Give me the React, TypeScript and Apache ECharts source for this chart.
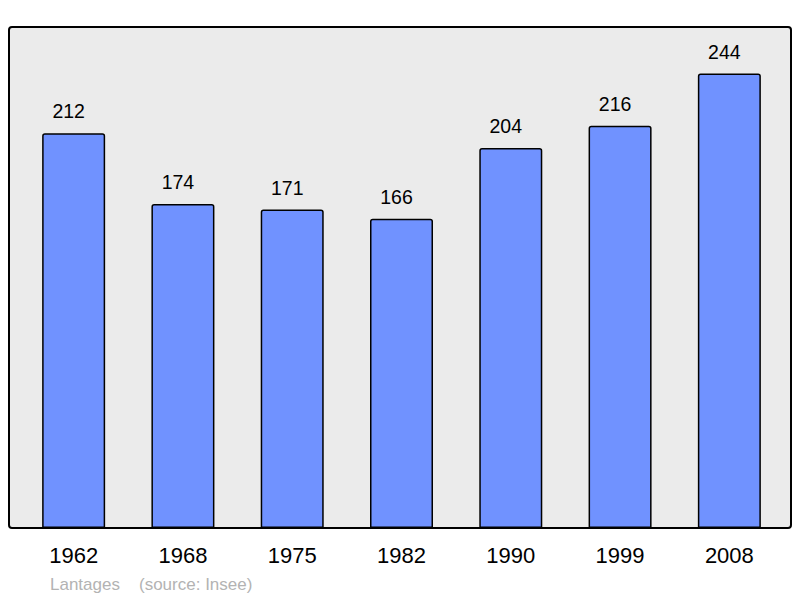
import React, { useEffect, useRef } from "react";
import * as echarts from "echarts";

const years = ["1962", "1968", "1975", "1982", "1990", "1999", "2008"];
const population = [212, 174, 171, 166, 204, 216, 244];
const townName = "Lantages";
const sourceText = "(source: Insee)";

export default function App() {
  const ref = useRef<HTMLDivElement>(null);
  useEffect(() => {
    if (!ref.current) return;
    const chart = echarts.init(ref.current, undefined, { renderer: "svg" });
    chart.setOption({
      animation: false,
      backgroundColor: "#ffffff",
      textStyle: { fontFamily: "Liberation Sans, Arial, sans-serif" },
      graphic: [
        {
          type: "rect",
          z: -10,
          shape: { x: 9, y: 27, width: 782, height: 501, r: 3 },
          style: { fill: "#ebebeb", stroke: "#000000", lineWidth: 2 },
        },
        {
          type: "text",
          x: 50,
          y: 584,
          style: {
            text: townName,
            fill: "#b3b3b3",
            font: "17px 'Liberation Sans', Arial, sans-serif",
            verticalAlign: "middle",
          },
        },
        {
          type: "text",
          x: 139,
          y: 584,
          style: {
            text: sourceText,
            fill: "#b3b3b3",
            font: "17px 'Liberation Sans', Arial, sans-serif",
            verticalAlign: "middle",
          },
        },
      ],
      grid: { left: 19, top: 27, width: 765, height: 501, containLabel: false },
      xAxis: {
        type: "category",
        data: years,
        axisLine: { show: false },
        axisTick: { show: false },
        axisLabel: {
          color: "#000000",
          fontSize: 22,
          margin: 16,
          fontFamily: "Liberation Sans, Arial, sans-serif",
        },
      },
      yAxis: {
        type: "value",
        min: 0,
        max: 269,
        show: false,
        splitLine: { show: false },
      },
      series: [
        {
          type: "bar",
          data: population,
          barWidth: 63,
          itemStyle: {
            color: "#7092ff",
            borderColor: "#000000",
            borderWidth: 1.5,
            borderRadius: [2, 2, 0, 0],
          },
          label: {
            show: true,
            position: "top",
            distance: 12,
            offset: [-5, 0],
            color: "#000000",
            fontSize: 19.5,
            fontFamily: "Liberation Sans, Arial, sans-serif",
          },
        },
      ],
    });
    return () => chart.dispose();
  }, []);
  return (
    <div
      ref={ref}
      style={{ position: "absolute", left: 0, top: 0, width: 800, height: 598 }}
    />
  );
}
